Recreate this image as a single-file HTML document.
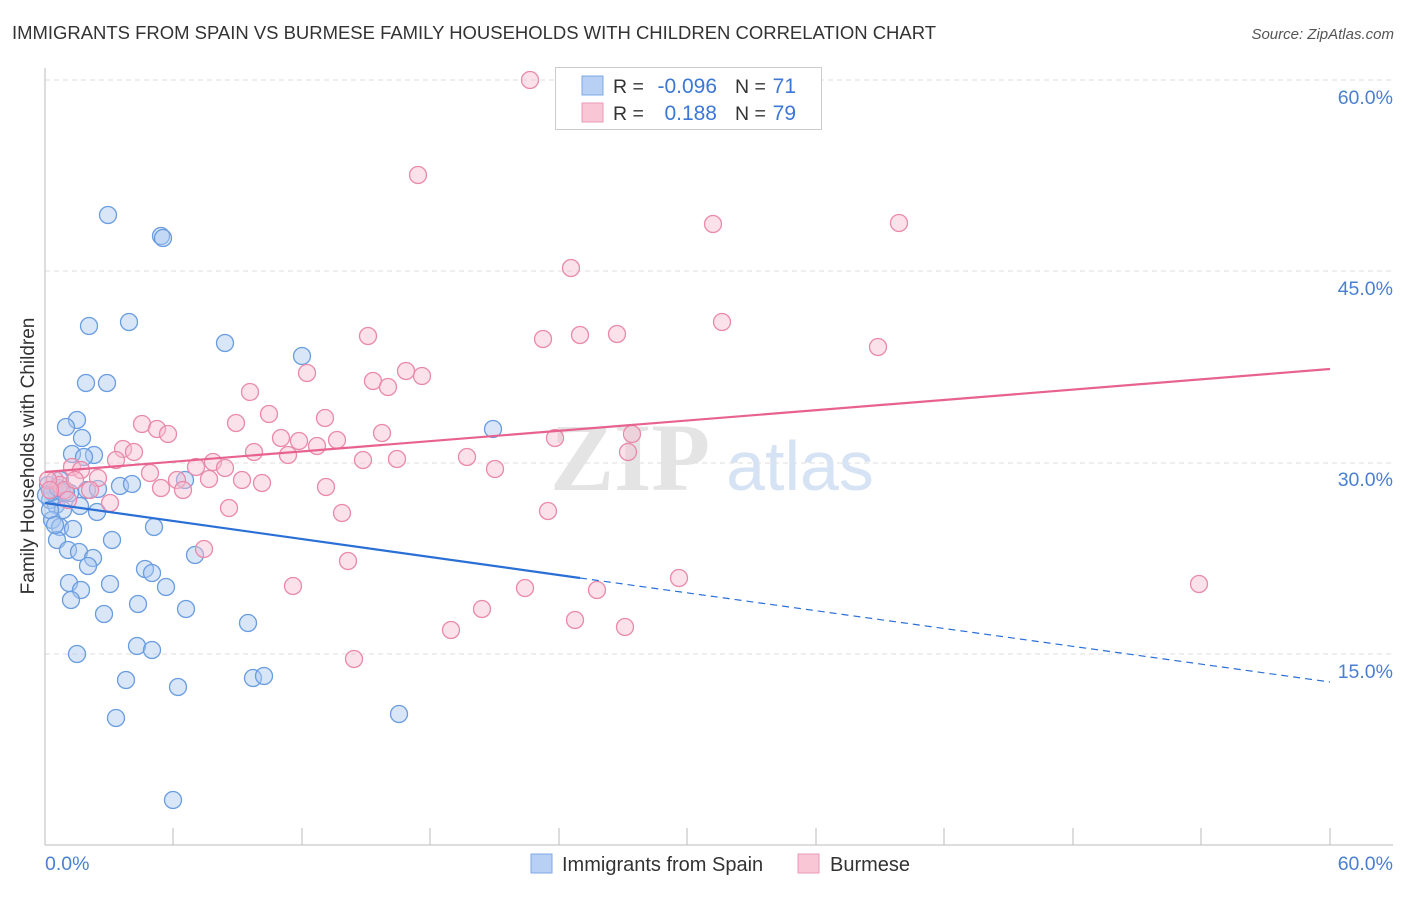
<!DOCTYPE html>
<html><head><meta charset="utf-8"><style>
body{margin:0;background:#fff;font-family:"Liberation Sans",sans-serif}
.b{fill:#a9c8f0;fill-opacity:.45;stroke:#6a9de0;stroke-width:1.3}
.p{fill:#f7bcd0;fill-opacity:.45;stroke:#e98aaa;stroke-width:1.3}
circle{r:8.5}
</style></head><body>
<svg width="1406" height="892" xmlns="http://www.w3.org/2000/svg" font-family="Liberation Sans, sans-serif">
<text x="12" y="39" font-size="18" fill="#333" textLength="924" lengthAdjust="spacingAndGlyphs">IMMIGRANTS FROM SPAIN VS BURMESE FAMILY HOUSEHOLDS WITH CHILDREN CORRELATION CHART</text>
<text x="1394" y="39" font-size="15" fill="#555" text-anchor="end" font-style="italic">Source: ZipAtlas.com</text>
<g stroke="#ddd" stroke-dasharray="5,4" stroke-width="1">
<line x1="45" y1="80" x2="1393" y2="80"/><line x1="45" y1="271" x2="1393" y2="271"/><line x1="45" y1="463" x2="1393" y2="463"/><line x1="45" y1="654" x2="1393" y2="654"/></g>
<line x1="45" y1="68" x2="45" y2="845" stroke="#bbb"/>
<line x1="45" y1="845" x2="1393" y2="845" stroke="#bbb"/>
<g stroke="#bbb"><line x1="173" y1="828" x2="173" y2="845"/><line x1="302" y1="828" x2="302" y2="845"/><line x1="430" y1="828" x2="430" y2="845"/><line x1="559" y1="828" x2="559" y2="845"/><line x1="687" y1="828" x2="687" y2="845"/><line x1="816" y1="828" x2="816" y2="845"/><line x1="944" y1="828" x2="944" y2="845"/><line x1="1073" y1="828" x2="1073" y2="845"/><line x1="1201" y1="828" x2="1201" y2="845"/><line x1="1330" y1="828" x2="1330" y2="845"/></g>
<g font-size="19.5" fill="#4a80d0" text-anchor="end"><text x="1393" y="104">60.0%</text><text x="1393" y="295">45.0%</text><text x="1393" y="486">30.0%</text><text x="1393" y="678">15.0%</text></g>
<text x="45" y="870" font-size="19.5" fill="#4a80d0">0.0%</text>
<text x="1393" y="870" font-size="19.5" fill="#4a80d0" text-anchor="end">60.0%</text>
<text transform="translate(34,456) rotate(-90)" font-size="19" fill="#333" text-anchor="middle">Family Households with Children</text>
<text x="630" y="490" font-size="96" fill="#e4e4e4" font-family="Liberation Serif, serif" font-weight="bold" text-anchor="middle">ZIP</text>
<text x="800" y="490" font-size="70" fill="#d6e3f4" text-anchor="middle">atlas</text>
<g class="b">
<circle cx="108" cy="215" r="8.5"/><circle cx="161" cy="236" r="8.5"/><circle cx="163" cy="238" r="8.5"/><circle cx="89" cy="326" r="8.5"/><circle cx="129" cy="322" r="8.5"/><circle cx="225" cy="343" r="8.5"/><circle cx="302" cy="356" r="8.5"/><circle cx="86" cy="383" r="8.5"/><circle cx="107" cy="383" r="8.5"/><circle cx="77" cy="420" r="8.5"/><circle cx="66" cy="427" r="8.5"/><circle cx="82" cy="438" r="8.5"/><circle cx="493" cy="429" r="8.5"/><circle cx="72" cy="454" r="8.5"/><circle cx="94" cy="455" r="8.5"/><circle cx="84" cy="457" r="8.5"/><circle cx="60" cy="480" r="8.5"/><circle cx="55" cy="490" r="8.5"/><circle cx="50" cy="500" r="8.5"/><circle cx="70" cy="493" r="8.5"/><circle cx="87" cy="490" r="8.5"/><circle cx="98" cy="489" r="8.5"/><circle cx="120" cy="486" r="8.5"/><circle cx="132" cy="484" r="8.5"/><circle cx="185" cy="480" r="8.5"/><circle cx="56" cy="505" r="8.5"/><circle cx="80" cy="506" r="8.5"/><circle cx="97" cy="512" r="8.5"/><circle cx="63" cy="510" r="8.5"/><circle cx="52" cy="520" r="8.5"/><circle cx="60" cy="527" r="8.5"/><circle cx="73" cy="529" r="8.5"/><circle cx="154" cy="527" r="8.5"/><circle cx="57" cy="540" r="8.5"/><circle cx="112" cy="540" r="8.5"/><circle cx="68" cy="550" r="8.5"/><circle cx="79" cy="552" r="8.5"/><circle cx="93" cy="558" r="8.5"/><circle cx="195" cy="555" r="8.5"/><circle cx="88" cy="566" r="8.5"/><circle cx="145" cy="569" r="8.5"/><circle cx="152" cy="573" r="8.5"/><circle cx="69" cy="583" r="8.5"/><circle cx="110" cy="584" r="8.5"/><circle cx="166" cy="587" r="8.5"/><circle cx="81" cy="590" r="8.5"/><circle cx="71" cy="600" r="8.5"/><circle cx="138" cy="604" r="8.5"/><circle cx="186" cy="609" r="8.5"/><circle cx="104" cy="614" r="8.5"/><circle cx="248" cy="623" r="8.5"/><circle cx="137" cy="646" r="8.5"/><circle cx="152" cy="650" r="8.5"/><circle cx="77" cy="654" r="8.5"/><circle cx="126" cy="680" r="8.5"/><circle cx="253" cy="678" r="8.5"/><circle cx="264" cy="676" r="8.5"/><circle cx="178" cy="687" r="8.5"/><circle cx="399" cy="714" r="8.5"/><circle cx="116" cy="718" r="8.5"/><circle cx="173" cy="800" r="8.5"/><circle cx="48" cy="485" r="8.5"/><circle cx="52" cy="492" r="8.5"/><circle cx="46" cy="495" r="8.5"/><circle cx="62" cy="492" r="8.5"/><circle cx="58" cy="488" r="8.5"/><circle cx="66" cy="492" r="8.5"/><circle cx="50" cy="510" r="8.5"/><circle cx="55" cy="525" r="8.5"/>
</g>
<g class="p">
<circle cx="530" cy="80" r="8.5"/><circle cx="418" cy="175" r="8.5"/><circle cx="713" cy="224" r="8.5"/><circle cx="899" cy="223" r="8.5"/><circle cx="571" cy="268" r="8.5"/><circle cx="722" cy="322" r="8.5"/><circle cx="368" cy="336" r="8.5"/><circle cx="543" cy="339" r="8.5"/><circle cx="580" cy="335" r="8.5"/><circle cx="617" cy="334" r="8.5"/><circle cx="878" cy="347" r="8.5"/><circle cx="250" cy="392" r="8.5"/><circle cx="307" cy="373" r="8.5"/><circle cx="373" cy="381" r="8.5"/><circle cx="388" cy="387" r="8.5"/><circle cx="406" cy="371" r="8.5"/><circle cx="422" cy="376" r="8.5"/><circle cx="269" cy="414" r="8.5"/><circle cx="325" cy="418" r="8.5"/><circle cx="236" cy="423" r="8.5"/><circle cx="142" cy="424" r="8.5"/><circle cx="157" cy="429" r="8.5"/><circle cx="168" cy="434" r="8.5"/><circle cx="281" cy="438" r="8.5"/><circle cx="299" cy="441" r="8.5"/><circle cx="317" cy="446" r="8.5"/><circle cx="337" cy="440" r="8.5"/><circle cx="382" cy="433" r="8.5"/><circle cx="555" cy="438" r="8.5"/><circle cx="632" cy="434" r="8.5"/><circle cx="123" cy="449" r="8.5"/><circle cx="134" cy="452" r="8.5"/><circle cx="254" cy="452" r="8.5"/><circle cx="288" cy="455" r="8.5"/><circle cx="628" cy="452" r="8.5"/><circle cx="363" cy="460" r="8.5"/><circle cx="397" cy="459" r="8.5"/><circle cx="467" cy="457" r="8.5"/><circle cx="116" cy="460" r="8.5"/><circle cx="213" cy="462" r="8.5"/><circle cx="150" cy="473" r="8.5"/><circle cx="196" cy="467" r="8.5"/><circle cx="225" cy="468" r="8.5"/><circle cx="72" cy="467" r="8.5"/><circle cx="81" cy="470" r="8.5"/><circle cx="495" cy="469" r="8.5"/><circle cx="177" cy="480" r="8.5"/><circle cx="209" cy="479" r="8.5"/><circle cx="242" cy="480" r="8.5"/><circle cx="262" cy="483" r="8.5"/><circle cx="326" cy="487" r="8.5"/><circle cx="161" cy="488" r="8.5"/><circle cx="183" cy="490" r="8.5"/><circle cx="98" cy="478" r="8.5"/><circle cx="90" cy="490" r="8.5"/><circle cx="55" cy="480" r="8.5"/><circle cx="60" cy="485" r="8.5"/><circle cx="48" cy="480" r="8.5"/><circle cx="65" cy="490" r="8.5"/><circle cx="68" cy="500" r="8.5"/><circle cx="110" cy="503" r="8.5"/><circle cx="229" cy="508" r="8.5"/><circle cx="342" cy="513" r="8.5"/><circle cx="548" cy="511" r="8.5"/><circle cx="204" cy="549" r="8.5"/><circle cx="348" cy="561" r="8.5"/><circle cx="679" cy="578" r="8.5"/><circle cx="293" cy="586" r="8.5"/><circle cx="525" cy="588" r="8.5"/><circle cx="597" cy="590" r="8.5"/><circle cx="1199" cy="584" r="8.5"/><circle cx="482" cy="609" r="8.5"/><circle cx="575" cy="620" r="8.5"/><circle cx="625" cy="627" r="8.5"/><circle cx="451" cy="630" r="8.5"/><circle cx="354" cy="659" r="8.5"/><circle cx="50" cy="490" r="8.5"/><circle cx="75" cy="480" r="8.5"/>
</g>
<line x1="45" y1="503" x2="580" y2="578" stroke="#2a6fd6" stroke-width="2.2"/>
<line x1="580" y1="578" x2="1330" y2="682" stroke="#2a6fd6" stroke-width="1.2" stroke-dasharray="7,5"/>
<line x1="45" y1="472" x2="1330" y2="369" stroke="#e8628f" stroke-width="2.2"/>
<rect x="555.5" y="67.5" width="266" height="62" fill="#fff" stroke="#ccc"/>
<rect x="582" y="76" width="21" height="19" fill="#b7d0f4" stroke="#7ea8e6"/>
<rect x="582" y="103" width="21" height="19" fill="#f9c6d6" stroke="#eb9ab6"/>
<g font-size="19.5" fill="#333"><text x="613" y="93">R =</text><text x="613" y="120">R =</text><text x="735" y="93">N =</text><text x="735" y="120">N =</text></g>
<g font-size="21" fill="#3b78d6"><text x="717" y="93" text-anchor="end">-0.096</text><text x="717" y="120" text-anchor="end">0.188</text><text x="796" y="93" text-anchor="end">71</text><text x="796" y="120" text-anchor="end">79</text></g>
<rect x="531" y="854" width="21" height="19" fill="#b7d0f4" stroke="#7ea8e6"/>
<text x="562" y="871" font-size="20" fill="#333">Immigrants from Spain</text>
<rect x="798" y="854" width="21" height="19" fill="#f9c6d6" stroke="#eb9ab6"/>
<text x="830" y="871" font-size="20" fill="#333">Burmese</text>
</svg>
</body></html>
